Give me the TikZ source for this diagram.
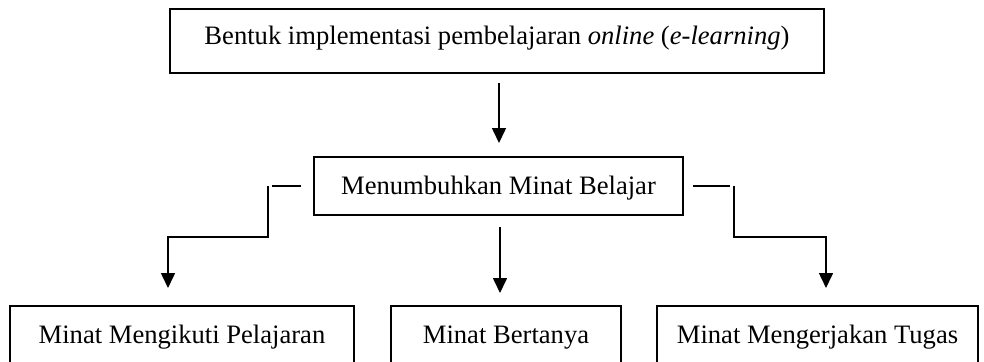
\documentclass[tikz,border=0pt]{standalone}
\usepackage{fontspec}
\setmainfont{Liberation Serif}
\usetikzlibrary{arrows.meta}
\begin{document}
\begin{tikzpicture}[x=1pt,y=-1pt,
  box/.style={draw,line width=1.7pt,rectangle,inner sep=0pt,outer sep=0pt,
    font=\fontsize{26.6}{30}\selectfont,text height=22pt,text depth=6pt},
  conn/.style={line width=1.6pt},
  arr/.style={conn,-{Triangle[width=14pt,length=15pt]}},
  stub/.style={line width=1.3pt}]
\useasboundingbox[fill=white] (0,0) rectangle (984,361);

\node[box,minimum width=654pt,minimum height=64pt,text height=20pt,text depth=12.4pt] (top) at (497,41)
  {Bentuk implementasi pembelajaran \textit{online} (\textit{e-learning})};
\node[box,minimum width=369pt,minimum height=58pt] (mid) at (498.5,186) {Menumbuhkan Minat Belajar};
\node[box,minimum width=344pt,minimum height=58pt] (b1) at (182,335) {Minat Mengikuti Pelajaran};
\node[box,minimum width=230pt,minimum height=58pt] (b2) at (506,335) {Minat Bertanya};
\node[box,minimum width=321pt,minimum height=58pt] (b3) at (817.5,335) {Minat Mengerjakan Tugas};

% top -> mid
\coordinate (a1s) at (499,83);
\coordinate (a1e) at (499,143);
\draw[arr] (a1s) -- (a1e);

% left branch
\coordinate (ls1) at (301,186);
\coordinate (ls2) at (272,186);
\draw[stub] (ls1) -- (ls2);
\coordinate (lc) at (268,186);
\coordinate (le) at (168,288);
\draw[arr] (lc) -- ++(0,51) -| (le);

% middle branch
\coordinate (ms) at (500,227);
\coordinate (me) at (500,293);
\draw[arr] (ms) -- (me);

% right branch
\coordinate (rs1) at (693,186);
\coordinate (rs2) at (730,186);
\draw[stub] (rs1) -- (rs2);
\coordinate (rc) at (734,186);
\coordinate (re) at (826,288);
\draw[arr] (rc) -- ++(0,51) -| (re);
\end{tikzpicture}
\end{document}
